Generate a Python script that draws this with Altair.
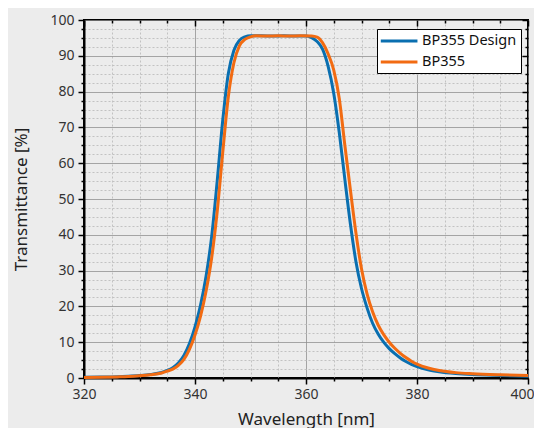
import altair as alt
import pandas as pd

# ---- data ----
design_nm = [320, 323, 326, 328, 330, 332, 334, 335, 336, 337, 338, 339, 340, 341, 342, 343, 344, 345, 346, 347, 348, 349,
             350, 352, 354, 356, 358, 360, 361, 362, 363, 364, 365, 366, 367, 368, 369, 370, 371, 372, 373, 374, 375, 376,
             377, 378, 379, 380, 382, 384, 387, 390, 395, 400]
design_t = [0.2, 0.25, 0.35, 0.5, 0.7, 1.0, 1.55, 2.1, 2.9, 4.2, 6.3, 9.6, 14.3, 20.4, 28.5, 39.5, 55, 72, 85, 91.5, 94.3, 95.3,
            95.6, 95.6, 95.5, 95.6, 95.5, 95.5, 95.1, 94.0, 91.8, 87, 79.5, 68.5, 55.5, 43, 32.5, 25, 19.6, 15.3, 12.3, 10.0,
            8.2, 6.8, 5.6, 4.6, 3.8, 3.2, 2.3, 1.75, 1.25, 0.95, 0.7, 0.5]

bp_nm = [320, 323, 326, 328, 330, 332, 334, 335, 336, 337, 338, 339, 340, 341, 342, 343, 344, 345, 346, 347, 348, 349,
         350, 351, 353, 355, 357, 359, 361, 362, 363, 364, 365, 366, 367, 368, 369, 370, 371, 372, 373, 374, 375, 376,
         377, 378, 379, 380, 382, 384, 387, 390, 395, 400]
bp_t = [0.15, 0.2, 0.3, 0.4, 0.6, 0.9, 1.4, 1.9, 2.5, 3.5, 5.2, 8.0, 12.0, 17.3, 24.3, 33.5, 46.5, 63, 78.5, 88, 92.8, 94.6,
        95.3, 95.6, 95.5, 95.6, 95.5, 95.6, 95.5, 95.2, 93.6, 90.5, 86, 78, 65, 52.5, 40.5, 30.5, 23.5, 18.5, 14.8, 12.1,
        10.0, 8.3, 6.9, 5.7, 4.7, 3.9, 2.8, 2.1, 1.5, 1.2, 0.9, 0.7]

series_names = ["BP355 Design", "BP355"]
series_colors = ["#0a6fb0", "#f26b12"]

x_ticks = list(range(320, 401, 5))
y_ticks = [i * 2.5 for i in range(41)]

rows = []
for n, t in zip(design_nm, design_t):
    rows.append({"nm": n, "T": t, "series": series_names[0], "ord": 0})
for n, t in zip(bp_nm, bp_t):
    rows.append({"nm": n, "T": t, "series": series_names[1], "ord": 1})
df = pd.DataFrame(rows)

W, H = 444, 358
MX = "datum.value % 20 === 0"
MY = "datum.value % 10 === 0"
FONT = "Noto Sans"

xscale = alt.Scale(domain=[320, 400], nice=False, zero=False)
yscale = alt.Scale(domain=[0, 100], nice=False)

def cond(test, a, b):
    return {"condition": {"test": test, "value": a}, "value": b}

x_main = alt.X(
    "nm:Q", scale=xscale,
    axis=alt.Axis(
        values=x_ticks, title="Wavelength [nm]", orient="bottom",
        labelExpr=f"{MX} ? datum.label : ''", labelOverlap=False, labelFlush=False,
        labelOffset=cond("datum.value === 400", -6, 0),
        labelFont=FONT, labelFontSize=14, labelColor="#333333", labelPadding=3,
        titleFont=FONT, titleFontSize=17, titleFontWeight="normal", titleColor="#222222", titlePadding=10,
        grid=True, gridColor=cond(MX, "#8c8c8c", "#c2c2c2"), gridDash=cond(MX, [1, 0], [2, 2]), gridWidth=1,
        domain=True, domainColor="#000000", domainWidth=2,
        ticks=True, tickColor="#000000", tickWidth=1.5, tickSize=cond(MX, 6, 3),
    ),
)
y_main = alt.Y(
    "T:Q", scale=yscale,
    axis=alt.Axis(
        values=y_ticks, title="Transmittance [%]", orient="left",
        labelExpr=f"{MY} ? datum.label : ''", labelOverlap=False, labelFlush=False,
        labelFont=FONT, labelFontSize=14, labelColor="#333333", labelPadding=4,
        titleFont=FONT, titleFontSize=17, titleFontWeight="normal", titleColor="#222222", titlePadding=19,
        grid=True, gridColor=cond(MY, "#8c8c8c", "#c2c2c2"), gridDash=cond(MY, [1, 0], [2, 2]), gridWidth=1,
        domain=True, domainColor="#000000", domainWidth=2,
        ticks=True, tickColor="#000000", tickWidth=1.5, tickSize=cond(MY, 6, 3),
    ),
)

lines = alt.Chart(df).mark_line(strokeWidth=3, interpolate="monotone").encode(
    x=x_main,
    y=y_main,
    color=alt.Color(
        "series:N",
        scale=alt.Scale(domain=series_names, range=series_colors),
        sort=series_names,
        legend=alt.Legend(
            title=None, orient="none", legendX=293, legendY=9,
            fillColor="#ffffff", strokeColor="#000000", padding=4,
            symbolType="M-1.3,0H4.5", symbolStrokeWidth=3, symbolSize=160,
            labelFont=FONT, labelFontSize=14.5, labelColor="#111111", labelOffset=25,
            rowPadding=6,
        ),
    ),
    order=alt.Order("ord:Q"),
)

x_top = alt.X(
    "nm:Q", scale=xscale,
    axis=alt.Axis(values=x_ticks, orient="bottom", offset=-H, labels=False, title=None, grid=False,
                  domain=False, ticks=True, tickColor="#000000", tickWidth=1.5, tickSize=cond(MX, 6, 3)),
)
y_right = alt.Y(
    "T:Q", scale=yscale,
    axis=alt.Axis(values=y_ticks, orient="left", offset=-W, labels=False, title=None, grid=False,
                  domain=False, ticks=True, tickColor="#000000", tickWidth=1.5, tickSize=cond(MY, 6, 3)),
)
frame_ticks = alt.Chart(df).mark_line(opacity=0).encode(x=x_top, y=y_right, detail="series:N")

chart = alt.layer(lines, frame_ticks).resolve_axis(x="independent", y="independent").properties(
    width=W, height=H,
    autosize=alt.AutoSizeParams(type="none"),
    padding={"left": 76, "top": 12, "right": 6, "bottom": 50},
).configure(background="#ececec").configure_view(fill="#ececec", stroke="#000000", strokeWidth=2)

chart.save("out.html", embed_options={"renderer": "svg", "actions": False})
